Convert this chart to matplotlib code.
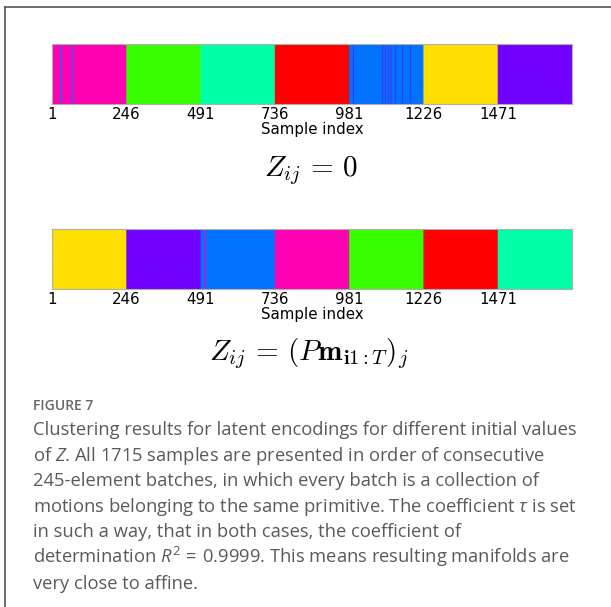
import matplotlib
matplotlib.use("Agg")
import matplotlib.pyplot as plt
import numpy as np
from matplotlib.colors import ListedColormap
from matplotlib.lines import Line2D

# cluster colours: 0 red, 1 yellow, 2 green, 3 spring green, 4 blue, 5 violet, 6 magenta
cluster_colors = ["#ff0000", "#ffdf00", "#38ff00", "#00ffa6", "#0073ff", "#7100ff", "#ff00b2"]

n_samples = 1715
tick_values = [1, 246, 491, 736, 981, 1226, 1471]

# (start, stop, cluster) runs, 0-based half open
top_runs = [(0, 245, 6), (245, 490, 2), (490, 735, 3), (735, 980, 0),
            (980, 1225, 4), (1225, 1470, 1), (1470, 1715, 5)]
top_outliers = [(27, 31, 4), (65, 69, 4), (993, 995, 5), (1090, 1092, 5),
                (1098, 1100, 5), (1108, 1110, 5), (1117, 1119, 5),
                (1132, 1134, 5), (1155, 1157, 5), (1182, 1184, 5)]

bottom_runs = [(0, 245, 1), (245, 490, 5), (490, 735, 4), (735, 980, 6),
               (980, 1225, 2), (1225, 1470, 0), (1470, 1715, 3)]
bottom_outliers = [(501, 505, 6)]

formula_top = r"$Z_{ij}\,=\,0$"
formula_bottom = r"$Z_{ij}\,=\,(P\mathbf{m}_{\mathbf{i1}:T})_j$"

caption_title = "FIGURE 7"
caption_lines = [
    "Clustering results for latent encodings for different initial values",
    "of $Z$. All 1715 samples are presented in order of consecutive",
    "245-element batches, in which every batch is a collection of",
    r"motions belonging to the same primitive. The coefficient $\tau$ is set",
    "in such a way, that in both cases, the coefficient of",
    r"determination $R^2\,=\,0.9999$. This means resulting manifolds are",
    "very close to affine.",
]

plt.rcParams["mathtext.fontset"] = "custom"
plt.rcParams["mathtext.rm"] = "Open Sans"
plt.rcParams["mathtext.it"] = "Open Sans:italic"
plt.rcParams["mathtext.bf"] = "Open Sans:bold"


def make_labels(runs, outliers):
    labels = np.zeros(n_samples, dtype=int)
    for start, stop, c in runs + outliers:
        labels[start:stop] = c
    return labels


def draw_bar(ax, labels):
    cmap = ListedColormap(cluster_colors)
    ax.imshow(labels[np.newaxis, :], cmap=cmap, vmin=-0.5, vmax=6.5,
              aspect="auto", extent=(0.5, n_samples + 0.5, 0, 1),
              interpolation="antialiased", interpolation_stage="rgba")
    ax.set_xlim(0.5, n_samples + 0.5)
    ax.set_ylim(0, 1)
    ax.set_yticks([])
    ax.set_xticks(tick_values)
    ax.tick_params(axis="x", length=0, pad=2.0, labelsize=10.8)
    ax.set_xlabel("Sample index", fontsize=10.8, labelpad=0.5)
    for s in ax.spines.values():
        s.set_color("#b0b0b0")
        s.set_linewidth(0.8)


W, H = 611, 607
fig = plt.figure(figsize=(W / 100, H / 100), dpi=100)

ax1 = fig.add_axes([52 / W, 1 - 104 / H, 520 / W, 60 / H])
draw_bar(ax1, make_labels(top_runs, top_outliers))
ax2 = fig.add_axes([52 / W, 1 - 289 / H, 520 / W, 60 / H])
draw_bar(ax2, make_labels(bottom_runs, bottom_outliers))

fig.text(311 / W, 1 - 171 / H, formula_top, fontsize=21, math_fontfamily="cm",
         ha="center", va="center")
fig.text(309 / W, 1 - 354 / H, formula_bottom, fontsize=21, math_fontfamily="cm",
         ha="center", va="center")

# caption
fig.text(33 / W, 1 - 410 / H, caption_title, fontsize=10, color="#666666",
         family="Open Sans", weight="semibold", va="baseline")
for i, line in enumerate(caption_lines):
    y = 435 + i * 25.6
    fig.text(33 / W, 1 - y / H, line, fontsize=13.2, color="#5a5a5a",
             family="Open Sans", va="baseline")

# outer frame: top and left rules only
fig.add_artist(Line2D([4.5 / W, 1], [1 - 6.5 / H, 1 - 6.5 / H], color="#555555", lw=1.2))
fig.add_artist(Line2D([4.5 / W, 4.5 / W], [0, 1 - 6.5 / H], color="#555555", lw=1.2))

fig.savefig("out.png", dpi=100)
